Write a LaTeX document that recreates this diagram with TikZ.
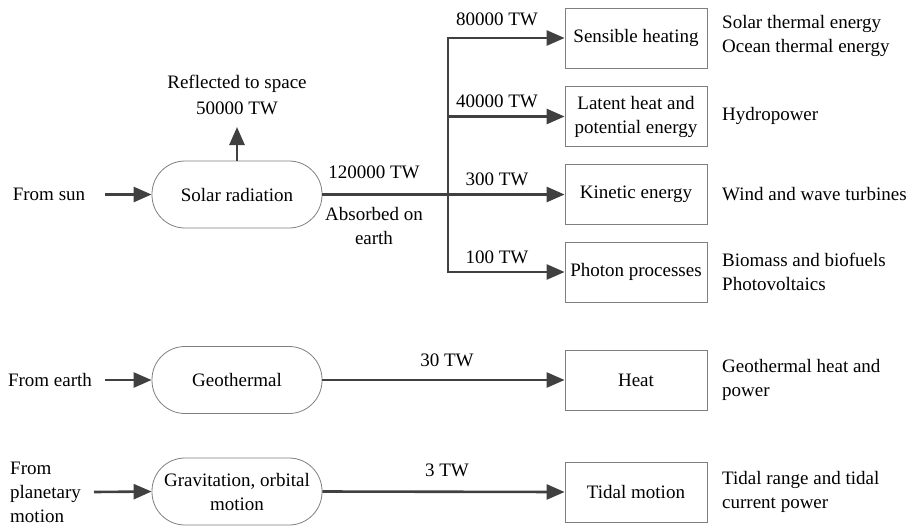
\documentclass[tikz,border=0pt]{standalone}
\usepackage{fontspec}
\newfontfamily\tms{Liberation Serif}
\newfontfamily\tmsd{Liberation Serif}[Scale=1.001]
\usetikzlibrary{arrows.meta}
\definecolor{arr}{HTML}{404040}
\definecolor{bord}{HTML}{7F7F7F}
\newcommand{\tfont}{\tms\fontsize{19}{24}\selectfont}
\newcommand{\dfont}{\tmsd\fontsize{19}{24}\selectfont}
\tikzset{
  term/.style={draw=bord, line width=0.8pt, rounded corners=33pt, minimum width=170pt, minimum height=67pt, align=center, inner sep=0pt, font=\tfont},
  ebox/.style={draw=bord, line width=0.8pt, minimum width=142pt, minimum height=60pt, align=center, inner sep=0pt, font=\tfont},
  lab/.style={align=center, inner sep=0pt, font=\tfont},
  num/.style={align=center, inner sep=0pt, font=\dfont},
  rtxt/.style={align=left, anchor=west, inner sep=0pt, font=\tfont},
  flow/.style={draw=arr, line width=2.6pt, -{Triangle[length=18pt,width=15pt]}},
  plain/.style={draw=arr, line width=2.6pt}
}
\begin{document}
\begin{tikzpicture}[x=1pt,y=-1pt]
\useasboundingbox (0,0) rectangle (913,528);
% solar row
\node[term] (sr) at (237,194.5) {Solar radiation};
\node[lab] (fs) at (49,194) {From sun};
\coordinate (fsE) at (105,194.5);
\draw[flow] (fsE) -- (sr.west);
\node[lab] (refl) at (237,84) {Reflected to space};
\node[num] (refl2) at (237,108) {50000 TW};
\coordinate (reflB) at (237,127);
\draw[flow] (sr.north) -- (reflB);
\node[ebox] (sens) at (636,38) {Sensible heating};
\node[ebox] (lat) at (636,116.5) {Latent heat and\\potential energy};
\node[ebox] (kin) at (636,194.5) {Kinetic energy};
\node[ebox] (pho) at (636,272) {Photon processes};
\coordinate (jT) at (448,38);
\coordinate (jL) at (448,116.5);
\coordinate (jB) at (448,272);
\draw[flow] (sr.east) -- (kin.west);
\draw[plain, line cap=rect] (jB) -- (jT);
\draw[flow] (jT) -- (sens.west);
\draw[flow] (jL) -- (lat.west);
\draw[flow] (jB) -- (pho.west);
\node[num] (l1) at (497,19) {80000 TW};
\node[num] (l2) at (497,101) {40000 TW};
\node[num] (l3) at (497,179) {300 TW};
\node[num] (l4) at (497,257) {100 TW};
\node[num] (l0) at (374,172) {120000 TW};
\node[lab] (abs) at (374,226) {Absorbed on\\earth};
\node[rtxt] (r1) at (722,36) {Solar thermal energy\\Ocean thermal energy};
\node[rtxt] (r2) at (722,116) {Hydropower};
\node[rtxt] (r3) at (722,194) {Wind and wave turbines};
\node[rtxt] (r4) at (722,272) {Biomass and biofuels\\Photovoltaics};
% geothermal row
\node[term] (geo) at (237,380) {Geothermal};
\node[lab] (fe) at (50,380) {From earth};
\coordinate (feE) at (105,380);
\draw[flow] (feE) -- (geo.west);
\node[ebox] (heat) at (636,380) {Heat};
\draw[flow] (geo.east) -- (heat.west);
\node[num] (g1) at (447,360) {30 TW};
\node[rtxt] (r5) at (722,380) {Geothermal heat and\\power};
% tidal row
\node[term] (grav) at (237,491.5) {Gravitation, orbital\\motion};
\node[rtxt] (fp) at (10,492) {From\\planetary\\motion};
\coordinate (fpE) at (94,492);
\draw[flow] (fpE) -- (grav.west);
\node[ebox] (tid) at (636,492) {Tidal motion};
\draw[flow] (grav.east) -- (tid.west);
\node[num] (t1) at (447,470) {3 TW};
\node[rtxt] (r6) at (722,492) {Tidal range and tidal\\current power};
\end{tikzpicture}
\end{document}
